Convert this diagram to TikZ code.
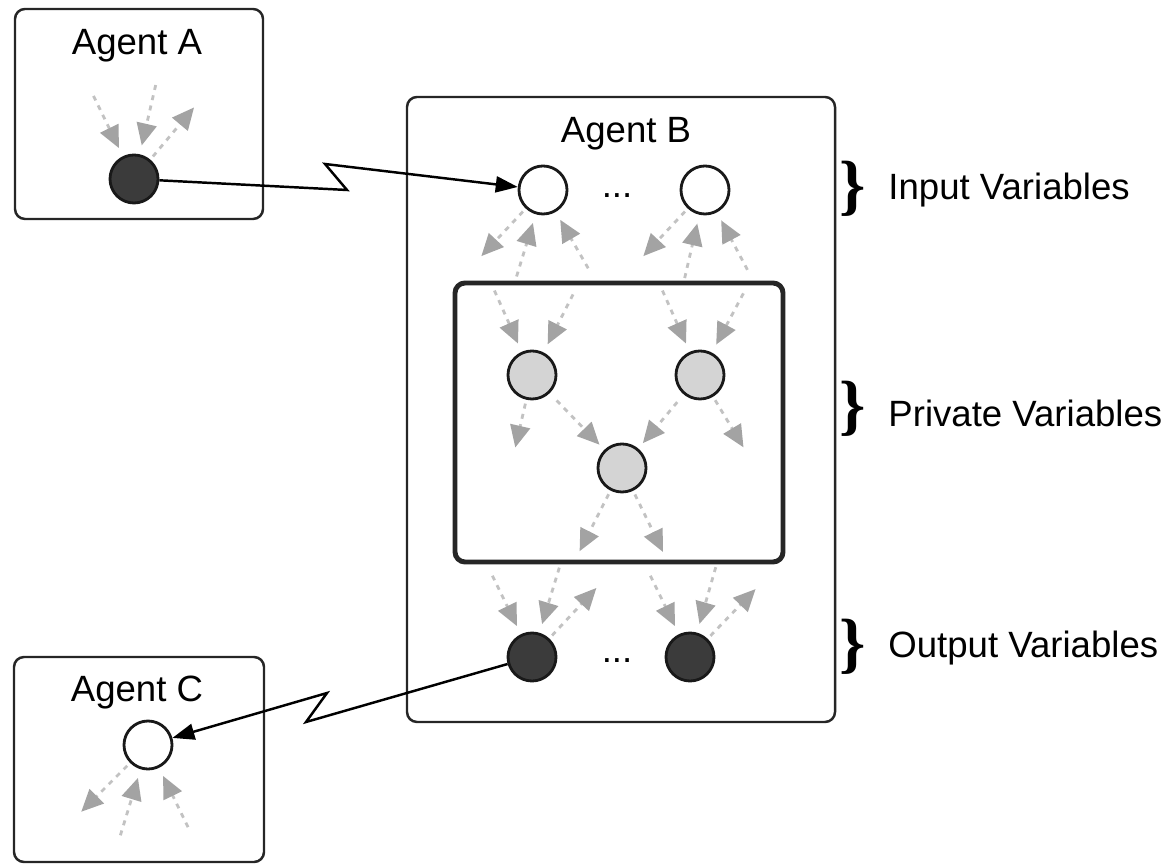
\documentclass[tikz,border=0pt]{standalone}
\usepackage{fontspec}
\setmainfont{Liberation Sans}
\newfontfamily\bracefont{Liberation Serif}
\usetikzlibrary{arrows.meta,calc}
\begin{document}
\begin{tikzpicture}[x=0.01cm,y=0.01cm,font=\fontsize{10.4}{12}\selectfont,
 box/.style={draw=black!85,line width=0.7pt,rounded corners=0.1cm},
 var/.style={draw=black!90,line width=0.8pt,circle,minimum size=0.48cm,inner sep=0pt},
 dk/.style={var,fill=black!77},
 lt/.style={var,fill=black!17},
 wt/.style={var,fill=white},
 dep/.style={draw=black!24,line width=0.8pt,dash pattern=on 0.05cm off 0.055cm,-{Triangle[length=0.22cm,width=0.2cm,color=black!36]}},
 link/.style={line width=0.7pt,-{Triangle[length=0.22cm,width=0.16cm]}},
 brc/.style={font=\bracefont\bfseries\fontsize{19}{19}\selectfont}]
\useasboundingbox(0,0)rectangle(1171,-865);
% agents
\draw[box](15,-9)rectangle(263,-219);
\draw[box](407,-97)rectangle(835,-722);
\draw[box](14,-657)rectangle(264,-862);
\draw[box,line width=1.4pt](455,-283)rectangle(783,-562);
\node[anchor=base](ta) at (137,-55){Agent A};
\node[anchor=base](tb) at (626,-143){Agent B};
\node[anchor=base](tc) at (137,-702){Agent C};
% variables
\node[dk](a1) at (134,-179){};
\node[wt](b1) at (543,-190){};
\node[wt](b2) at (705,-190){};
\node(db) at (617,-196){...};
\node[lt](p1) at (532,-375){};
\node[lt](p2) at (700,-375){};
\node[lt](p3) at (622,-468){};
\node[dk](o1) at (532,-657){};
\node[dk](o2) at (690,-657){};
\node(do) at (617,-661){...};
\node[wt](c1) at (148,-745){};
% dependencies
\foreach \v/\a/\l in {a1/116/67,a1/77/71,b1/253/65,b1/300/65,b2/257/65,b2/298/65,
  p1/114/67,p1/63/65,p2/114/67,p2/62/67,o1/116/65,o1/73/68,o2/116/65,o2/74/68,
  c1/253/69,c1/296/66}
  \draw[dep,shorten >=0.09cm]($(\v.\a)+(\a:\l)$)--(\v.\a);
\foreach \v/\a/\l in {a1/50/68,b1/227/65,b2/227/65,p1/257/49,p2/301/59,
  p3/243/68,p3/296/68,o1/47/69,o2/46/69,c1/225/69}
  \draw[dep,shorten <=0.04cm](\v.\a)--++(\a:\l);
\draw[dep,shorten <=0.1cm,shorten >=0.07cm](p1)--(p3);
\draw[dep,shorten <=0.1cm,shorten >=0.07cm](p2)--(p3);
% links between agents
\coordinate(z1) at (347,-190);
\coordinate(z2) at (325,-164);
\draw[link](a1)--(z1)--(z2)--(b1);
\coordinate(z3) at (306,-722);
\coordinate(z4) at (327,-693);
\draw[link](o1)--(z3)--(z4)--(c1);
% kinds of variables
\node[brc](ki) at (853,-189){\}};
\node[brc](kp) at (853,-409){\}};
\node[brc](ko) at (853,-647){\}};
\node[anchor=base west](li) at (876,-200){Input Variables};
\node[anchor=base west](lp) at (876,-427){Private Variables};
\node[anchor=base west](lo) at (876,-657){Output Variables};
\end{tikzpicture}
\end{document}
